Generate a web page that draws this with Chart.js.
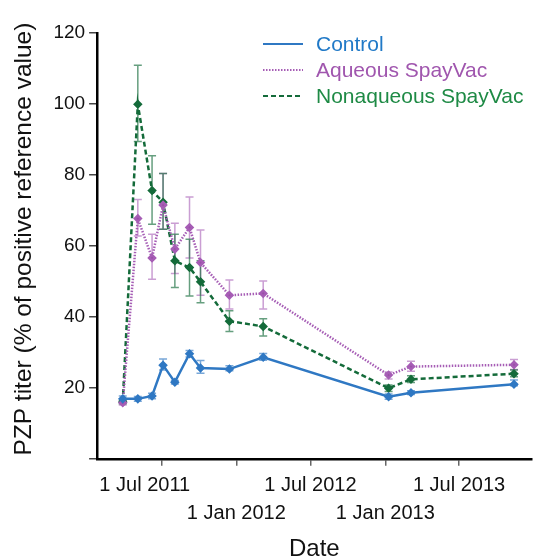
<!DOCTYPE html>
<html>
<head>
<meta charset="utf-8">
<script src="https://cdn.jsdelivr.net/npm/chart.js@4/dist/chart.umd.min.js"></script>
<style>
  html, body { margin: 0; padding: 0; background: #fff; }
  #wrap { width: 538px; height: 559px; }
</style>
</head>
<body>
<div id="wrap"><canvas id="titer-chart"></canvas></div>
<script>
// sampling dates
const sampleDates = ['2011-03-28', '2011-05-04', '2011-06-08', '2011-07-05', '2011-08-03', '2011-09-08',
    '2011-10-05', '2011-12-15', '2012-03-07', '2013-01-09', '2013-03-05', '2013-11-13'];

// PZP titer, % of positive reference value
const controlMean = [16.9, 16.9, 17.7, 26.4, 21.6, 29.6, 25.6, 25.3, 28.6, 17.5, 18.6, 21.0];
const controlLow  = [16.1, 16.2, 16.9, 25.0, 21.1, 28.7, 24.1, 24.8, 27.8, 16.8, 18.1, 20.6];
const controlHigh = [17.7, 17.6, 18.5, 28.1, 22.1, 30.5, 27.7, 26.2, 29.7, 18.3, 19.2, 22.2];

const aqueousMean = [15.8, 67.7, 56.6, 71.5, 59.1, 65.2, 55.3, 46.1, 46.6, 23.6, 26.0, 26.5];
const aqueousLow  = [15.2, 62.8, 50.6, 64.7, 52.2, 56.6, 46.1, 42.2, 42.2, 22.5, 24.7, 25.2];
const aqueousHigh = [16.4, 73.1, 63.3, 80.4, 66.4, 73.8, 64.5, 50.4, 50.1, 24.5, 27.5, 28.0];

const nonaqueousMean = [16.0, 99.9, 75.6, 72.3, 55.8, 53.9, 49.9, 38.8, 37.3, 19.9, 22.4, 24.0];
const nonaqueousLow  = [15.5, 89.4, 66.1, 64.7, 48.3, 45.9, 44.0, 35.9, 34.6, 19.0, 21.5, 23.1];
const nonaqueousHigh = [16.5, 110.9, 85.4, 80.4, 63.3, 61.9, 55.8, 41.7, 39.5, 20.8, 23.4, 25.0];

// x tick dates and labels
const tickDates = ['2011-07-01', '2012-01-01', '2012-07-01', '2013-01-01', '2013-07-01'];
const tickLabels = ['1 Jul 2011', '1 Jan 2012', '1 Jul 2012', '1 Jan 2013', '1 Jul 2013'];
const yTicks = [0, 20, 40, 60, 80, 100, 120];

// days counted from 1 Jul 2011
const dayZero = Date.UTC(2011, 6, 1);
const toDay = (s) => {
    const [y, m, d] = s.split('-').map(Number);
    return Math.round((Date.UTC(y, m - 1, d) - dayZero) / 86400000);
};
const tickDays = tickDates.map(toDay);
const sampleDays = sampleDates.map(toDay);
const toPoints = (vals) => vals.map((v, i) => ({ x: sampleDays[i], y: v }));

const FONT = "'Liberation Sans', Arial, sans-serif";

// error bars drawn with the chart's own scales
const errorBars = {
    id: 'errorBars',
    beforeDatasetsDraw(chart) {
        const ctx = chart.ctx;
        const yScale = chart.scales.y;
        chart.data.datasets.forEach((ds, di) => {
            const meta = chart.getDatasetMeta(di);
            ctx.save();
            ctx.strokeStyle = ds.errorColor;
            ctx.lineWidth = 1.5;
            meta.data.forEach((pt, i) => {
                const yl = yScale.getPixelForValue(ds.errLow[i]);
                const yh = yScale.getPixelForValue(ds.errHigh[i]);
                ctx.beginPath();
                ctx.moveTo(pt.x, yl); ctx.lineTo(pt.x, yh);
                ctx.moveTo(pt.x - 4, yl); ctx.lineTo(pt.x + 4, yl);
                ctx.moveTo(pt.x - 4, yh); ctx.lineTo(pt.x + 4, yh);
                ctx.stroke();
            });
            ctx.restore();
        });
    }
};

// legend sitting inside the plot, top right
const insideLegend = {
    id: 'insideLegend',
    afterDraw(chart) {
        const ctx = chart.ctx;
        const x0 = 263, lineLen = 40, textX = 316;
        const rows = [44, 70, 96];
        chart.data.datasets.forEach((ds, i) => {
            ctx.save();
            ctx.strokeStyle = ds.borderColor;
            ctx.lineWidth = 2;
            ctx.setLineDash(ds.borderDash || []);
            ctx.beginPath();
            ctx.moveTo(x0, rows[i]);
            ctx.lineTo(x0 + lineLen, rows[i]);
            ctx.stroke();
            ctx.setLineDash([]);
            ctx.fillStyle = ds.legendColor;
            ctx.font = `21px ${FONT}`;
            ctx.textAlign = 'left';
            ctx.textBaseline = 'middle';
            ctx.fillText(ds.label, textX, rows[i] + 1);
            ctx.restore();
        });
    }
};

new Chart(document.getElementById('titer-chart'), {
    type: 'line',
    data: {
        datasets: [{
            label: 'Control',
            data: toPoints(controlMean),
            errLow: controlLow,
            errHigh: controlHigh,
            borderColor: '#2f78c3',
            backgroundColor: '#2f78c3',
            legendColor: '#2079c7',
            errorColor: 'rgba(47, 120, 195, 0.65)',
            borderWidth: 2.5,
            pointStyle: 'rectRot',
            pointRadius: 3
        }, {
            label: 'Aqueous SpayVac',
            data: toPoints(aqueousMean),
            errLow: aqueousLow,
            errHigh: aqueousHigh,
            borderColor: '#a65db5',
            backgroundColor: '#9a4fa8',
            legendColor: '#a056ae',
            errorColor: 'rgba(166, 93, 181, 0.6)',
            borderWidth: 2.5,
            borderDash: [1.5, 1.5],
            pointStyle: 'rectRot',
            pointRadius: 3
        }, {
            label: 'Nonaqueous SpayVac',
            data: toPoints(nonaqueousMean),
            errLow: nonaqueousLow,
            errHigh: nonaqueousHigh,
            borderColor: '#146b3a',
            backgroundColor: '#146b3a',
            legendColor: '#1e8a45',
            errorColor: 'rgba(20, 107, 58, 0.65)',
            borderWidth: 2.5,
            borderDash: [5, 3],
            pointStyle: 'rectRot',
            pointRadius: 3
        }]
    },
    options: {
        responsive: true,
        maintainAspectRatio: false,
        animation: false,
        layout: { padding: { top: 33, left: 10, right: 0, bottom: 0 } },
        plugins: {
            legend: { display: false },
            tooltip: { enabled: false }
        },
        scales: {
            x: {
                type: 'linear',
                min: -158,
                max: 909,
                afterBuildTicks: (scale) => {
                    scale.ticks = tickDays.map(v => ({ value: v }));
                },
                grid: { drawOnChartArea: false, tickLength: 7, color: '#666', lineWidth: 1.5 },
                border: { display: true, color: '#000', width: 2.5 },
                ticks: {
                    autoSkip: false,
                    maxRotation: 0,
                    padding: 6,
                    color: '#111',
                    font: { family: FONT, size: 20, lineHeight: 1.4 },
                    callback: (value) => {
                        const i = tickDays.indexOf(value);
                        if (i < 0) return '';
                        // first label sits flush with the y axis, so nudge it left
                        if (i === 0) return tickLabels[i] + '\u00a0'.repeat(6);
                        return i % 2 === 0 ? tickLabels[i] : ['', tickLabels[i]];
                    }
                },
                title: {
                    display: true,
                    text: 'Date',
                    color: '#111',
                    font: { family: FONT, size: 24, lineHeight: 0.84 },
                    padding: { top: 5, bottom: 0 }
                }
            },
            y: {
                min: 0,
                max: 120,
                afterBuildTicks: (scale) => {
                    scale.ticks = yTicks.map(v => ({ value: v }));
                },
                grid: { drawOnChartArea: false, tickLength: 8, color: '#444', lineWidth: 1.5 },
                border: { display: true, color: '#000', width: 2.5 },
                ticks: {
                    padding: 4,
                    color: '#111',
                    font: { family: FONT, size: 19 },
                    callback: (value) => value === 0 ? '' : value
                },
                title: {
                    display: true,
                    text: '\u00a0\u00a0PZP titer (% of positive reference value)',
                    color: '#111',
                    font: { family: FONT, size: 24.5 },
                    padding: { top: 0, bottom: 10 }
                }
            }
        }
    },
    plugins: [errorBars, insideLegend]
});
</script>
</body>
</html>
